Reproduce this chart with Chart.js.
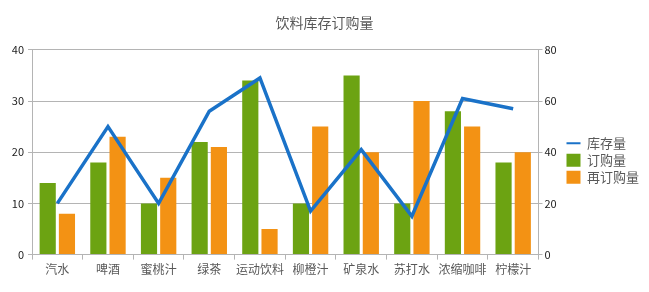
<!DOCTYPE html>
<html>
<head>
<meta charset="utf-8">
<script src="https://cdn.jsdelivr.net/npm/chart.js@4/dist/chart.umd.min.js"></script>
<style>
  html, body { margin: 0; padding: 0; background: #fff; }
  #wrap { width: 649px; height: 292px; }
</style>
</head>
<body>
<div id="wrap"><canvas id="chart"></canvas></div>
<script>
// Data
const categories = ['汽水', '啤酒', '蜜桃汁', '绿茶', '运动饮料', '柳橙汁', '矿泉水', '苏打水', '浓缩咖啡', '柠檬汁'];
const stockValues = [20, 50, 20, 56, 69, 17, 41, 15, 61, 57];   // 库存量 (right axis)
const orderValues = [14, 18, 10, 22, 34, 10, 35, 10, 28, 18];   // 订购量
const reorderValues = [8, 23, 15, 21, 5, 25, 20, 30, 25, 20];   // 再订购量
const leftTicks = [0, 10, 20, 30, 40];
const rightTicks = [0, 20, 40, 60, 80];

const FONT = '"Noto Sans CJK SC", "Noto Sans", sans-serif';
const GRID = '#b4b4b4';
const TEXT = '#595959';

const ctx = document.getElementById('chart').getContext('2d');
new Chart(ctx, {
    type: 'bar',
    data: {
        labels: categories,
        datasets: [
            {
                type: 'line',
                label: '库存量',
                data: stockValues,
                yAxisID: 'y1',
                borderColor: '#1a72c8',
                backgroundColor: '#1a72c8',
                borderWidth: 3.5,
                pointRadius: 0,
                tension: 0,
                order: 0
            },
            {
                label: '订购量',
                data: orderValues,
                yAxisID: 'y',
                backgroundColor: '#6ca312',
                categoryPercentage: 0.76,
                barPercentage: 0.84,
                order: 1
            },
            {
                label: '再订购量',
                data: reorderValues,
                yAxisID: 'y',
                backgroundColor: '#f39214',
                categoryPercentage: 0.76,
                barPercentage: 0.84,
                order: 1
            }
        ]
    },
    options: {
        responsive: true,
        maintainAspectRatio: false,
        animation: false,
        layout: { padding: { top: 6, bottom: 12, left: 0, right: 0 } },
        plugins: {
            title: {
                display: true,
                text: '饮料库存订购量',
                color: TEXT,
                font: { family: FONT, size: 14, weight: 'normal' },
                padding: { top: 8, bottom: 19 }
            },
            legend: {
                position: 'right',
                title: {
                    display: true,
                    text: '',
                    padding: { top: 9, bottom: 11 }
                },
                labels: {
                    color: TEXT,
                    font: { family: FONT, size: 13 },
                    boxWidth: 13,
                    boxHeight: 13,
                    padding: 4,
                    generateLabels: (chart) => chart.data.datasets.map((ds, i) => ({
                        text: ds.label,
                        fillStyle: ds.backgroundColor,
                        strokeStyle: ds.type === 'line' ? ds.borderColor : ds.backgroundColor,
                        lineWidth: ds.type === 'line' ? 2 : 0,
                        pointStyle: ds.type === 'line' ? 'line' : 'rect',
                        fontColor: TEXT,
                        datasetIndex: i
                    })),
                    usePointStyle: true,
                    pointStyleWidth: 14
                }
            },
            tooltip: { enabled: false }
        },
        scales: {
            x: {
                grid: {
                    offset: true,
                    drawOnChartArea: false,
                    color: GRID,
                    tickLength: 5
                },
                border: { color: GRID },
                ticks: {
                    color: TEXT,
                    font: { family: FONT, size: 12 },
                    maxRotation: 0,
                    autoSkip: false,
                    padding: 3
                }
            },
            y: {
                position: 'left',
                min: leftTicks[0],
                max: leftTicks[leftTicks.length - 1],
                afterBuildTicks: (axis) => { axis.ticks = leftTicks.map(v => ({ value: v })); },
                afterFit: (axis) => { axis.width = 32; },
                grid: { color: GRID, tickLength: 4 },
                border: { color: GRID },
                ticks: {
                    color: '#222',
                    font: { family: FONT, size: 11 },
                    padding: 4
                }
            },
            y1: {
                position: 'right',
                min: rightTicks[0],
                max: rightTicks[rightTicks.length - 1],
                afterBuildTicks: (axis) => { axis.ticks = rightTicks.map(v => ({ value: v })); },
                afterFit: (axis) => { axis.width = 24; },
                grid: { drawOnChartArea: false, color: GRID, tickLength: 4 },
                border: { color: GRID },
                ticks: {
                    color: '#222',
                    font: { family: FONT, size: 11 },
                    padding: 2
                }
            }
        }
    }
});
</script>
</body>
</html>
